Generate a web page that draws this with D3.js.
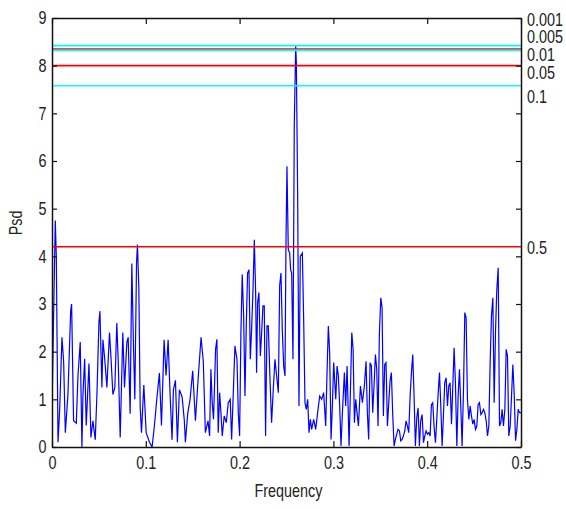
<!DOCTYPE html>
<html>
<head>
<meta charset="utf-8">
<script src="https://cdn.jsdelivr.net/npm/d3@7"></script>
<style>
  body { margin: 0; background: #fff; }
  svg text { font-family: "Liberation Sans", Arial, sans-serif; fill: #222; }
</style>
</head>
<body>
<div id="chart"></div>
<script>
// frequency / power
var freq = [
  0.0000, 0.0035, 0.0046, 0.0064, 0.0082, 0.0106, 0.0124, 0.0142, 0.0170, 0.0199,
  0.0209, 0.0230, 0.0259, 0.0277, 0.0301, 0.0319, 0.0330, 0.0348, 0.0365, 0.0394,
  0.0415, 0.0436, 0.0461, 0.0479, 0.0500, 0.0511, 0.0532, 0.0543, 0.0564, 0.0585,
  0.0613, 0.0631, 0.0649, 0.0670, 0.0691, 0.0706, 0.0727, 0.0755, 0.0773, 0.0798,
  0.0812, 0.0833, 0.0851, 0.0869, 0.0883, 0.0901, 0.0911, 0.0926, 0.0940, 0.0954,
  0.0979, 0.1004, 0.1039, 0.1067, 0.1092, 0.1117, 0.1145, 0.1167, 0.1195, 0.1216,
  0.1238, 0.1259, 0.1280, 0.1294, 0.1316, 0.1337, 0.1358, 0.1387, 0.1411, 0.1422,
  0.1447, 0.1472, 0.1500, 0.1529, 0.1557, 0.1589, 0.1613, 0.1635, 0.1663,
  0.1680, 0.1694, 0.1708, 0.1722, 0.1744, 0.1758, 0.1772, 0.1787, 0.1801, 0.1815,
  0.1836, 0.1858, 0.1879, 0.1900, 0.1915, 0.1929, 0.1950, 0.1972, 0.1986, 0.2000,
  0.2014, 0.2028, 0.2043, 0.2057, 0.2071, 0.2085, 0.2100, 0.2114, 0.2128, 0.2142,
  0.2157, 0.2171, 0.2181, 0.2192, 0.2206, 0.2221, 0.2235, 0.2249, 0.2263, 0.2277,
  0.2292, 0.2306, 0.2324, 0.2341, 0.2359, 0.2377, 0.2391, 0.2413, 0.2427, 0.2441,
  0.2455, 0.2470, 0.2484, 0.2494, 0.2505, 0.2519, 0.2534, 0.2544, 0.2555, 0.2569,
  0.2583, 0.2598, 0.2605, 0.2619, 0.2633, 0.2647, 0.2669, 0.2683, 0.2697, 0.2711,
  0.2726, 0.2740, 0.2754, 0.2768, 0.2790, 0.2811, 0.2832, 0.2854, 0.2875, 0.2896,
  0.2918, 0.2932, 0.2946, 0.2960, 0.2975, 0.2989, 0.3003, 0.3025, 0.3039, 0.3053,
  0.3067, 0.3081, 0.3096, 0.3117, 0.3131, 0.3146, 0.3167, 0.3181, 0.3196, 0.3210,
  0.3224, 0.3238, 0.3252, 0.3267, 0.3288, 0.3309, 0.3330,
  0.3348, 0.3362, 0.3376, 0.3391, 0.3405, 0.3419, 0.3433, 0.3448, 0.3462, 0.3476,
  0.3490, 0.3505, 0.3519, 0.3533, 0.3547, 0.3561, 0.3576, 0.3590, 0.3604, 0.3618,
  0.3633, 0.3647, 0.3661, 0.3675, 0.3689, 0.3704, 0.3718, 0.3732, 0.3746, 0.3761,
  0.3775, 0.3789, 0.3803, 0.3818, 0.3832, 0.3846, 0.3860, 0.3874, 0.3889, 0.3903,
  0.3917, 0.3931, 0.3946, 0.3960, 0.3974, 0.3988, 0.4003, 0.4017, 0.4031, 0.4045,
  0.4059, 0.4074, 0.4088, 0.4102, 0.4116, 0.4131, 0.4145, 0.4159, 0.4173, 0.4187,
  0.4202, 0.4216, 0.4230, 0.4244, 0.4259, 0.4273, 0.4287, 0.4301, 0.4316, 0.4330,
  0.4344, 0.4358, 0.4372, 0.4387, 0.4401, 0.4415, 0.4429, 0.4444, 0.4458, 0.4472,
  0.4486, 0.4500, 0.4515, 0.4529, 0.4543, 0.4557, 0.4572, 0.4586, 0.4600, 0.4614,
  0.4629, 0.4643, 0.4657, 0.4671, 0.4685, 0.4700, 0.4714, 0.4728, 0.4742, 0.4757,
  0.4771, 0.4785, 0.4799, 0.4813, 0.4828, 0.4842, 0.4856, 0.4870, 0.4885, 0.4899,
  0.4913, 0.4927, 0.4942, 0.4956, 0.4970, 0.4984, 0.5000
];

var psd = [
  0.80, 4.75, 4.00, 0.10, 0.80, 2.30, 1.80, 0.30, 1.10, 2.85,
  3.00, 0.55, 0.50, 1.50, 2.20, 0.00, 1.10, 1.85, 0.45, 1.75,
  0.20, 0.55, 0.15, 1.10, 2.60, 2.85, 1.25, 2.25, 1.80, 1.25,
  2.40, 1.80, 1.10, 1.25, 2.60, 1.80, 0.20, 2.40, 1.25, 2.20,
  2.30, 0.70, 3.85, 2.10, 1.00, 3.85, 4.25, 3.30, 0.85, 0.30,
  1.30, 0.30, 0.10, 0.00, 0.45, 1.00, 1.55, 0.45, 2.25, 1.50,
  2.25, 1.10, 0.15, 1.20, 1.40, 0.10, 1.20, 1.05, 0.55, 0.10,
  0.70, 1.00, 1.60, 0.55, 1.40, 2.30, 1.80, 0.30, 0.55,
  0.23, 1.63, 0.93, 0.58, 2.05, 2.26, 0.30, 1.14, 0.72, 0.23,
  0.65, 0.51, 0.93, 1.00, 0.16, 0.93, 2.12, 1.84, 0.72, 0.23,
  2.40, 3.62, 2.75, 1.07, 2.54, 3.65, 3.72, 1.84, 2.47, 3.24,
  4.35, 3.24, 1.56, 3.03, 3.24, 1.91, 2.40, 2.96, 2.96, 0.23,
  2.54, 2.54, 1.42, 0.51, 1.21, 1.84, 1.56, 1.14, 3.38, 3.65,
  2.47, 1.70, 1.49, 4.21, 5.89, 4.14, 4.07, 3.72, 3.65, 1.84,
  6.76, 8.41, 8.06, 5.26, 0.86, 4.00, 4.07, 2.68, 0.93, 0.79,
  1.00, 0.30, 0.58, 0.37, 0.58, 0.37, 0.72, 1.07, 1.00, 1.14,
  0.44, 1.56, 2.54, 1.98, 0.16, 0.86, 1.77, 1.00, 1.70, 1.49,
  0.86, 0.02, 0.72, 1.56, 0.86, 1.70, 0.02, 1.14, 2.40, 2.05,
  0.51, 1.00, 0.72, 0.44, 1.28, 0.93, 1.28,
  1.80, 0.72, 0.16, 1.77, 1.70, 0.72, 1.28, 1.94, 1.63, 0.44,
  2.36, 3.13, 2.92, 0.65, 1.73, 1.77, 0.44, 0.93, 1.38, 1.56,
  0.65, 0.02, 0.16, 0.27, 0.37, 0.34, 0.13, 0.16, 0.23, 0.34,
  0.55, 0.44, 0.30, 1.07, 1.56, 1.94, 1.07, 0.02, 0.62, 0.82,
  0.02, 0.55, 0.68, 0.09, 0.23, 0.34, 0.27, 0.30, 0.23, 0.89,
  0.93, 0.41, 0.09, 0.58, 1.10, 1.56, 0.86, 0.02, 0.65, 1.35,
  1.45, 0.86, 1.28, 1.35, 0.48, 1.28, 2.08, 1.35, 0.02, 1.07,
  1.63, 0.86, 0.02, 1.21, 2.82, 2.71, 1.00, 0.58, 0.86, 0.65,
  0.48, 0.58, 0.37, 0.44, 0.89, 0.93, 0.68, 0.72, 0.79, 0.72,
  0.55, 0.23, 0.44, 1.77, 2.75, 3.13, 0.93, 2.40, 3.30, 3.76,
  0.44, 0.51, 0.79, 0.44, 0.79, 2.05, 1.91, 0.23, 0.44, 1.07,
  1.73, 1.14, 0.13, 0.37, 0.79, 0.72, 0.72
];

// significance levels and their psd thresholds
var sigLabels = ["0.001", "0.005", "0.01", "0.05", "0.1", "0.5"];
var sigLevels = [8.42, 8.35, 8.32, 8.00, 7.58, 4.20];
var sigColors = ["#00ffff", "#ff0000", "#00ffff", "#ff0000", "#00ffff", "#ff0000"];
// where the right-hand labels sit (psd units), stacked so they don't overlap
var sigLabelPos = [8.97, 8.61, 8.23, 7.85, 7.35, 4.19];

var xTicks = [0, 0.1, 0.2, 0.3, 0.4, 0.5];
var yTicks = [0, 1, 2, 3, 4, 5, 6, 7, 8, 9];

// matlab's font here is a narrow helvetica, so squeeze text horizontally
var squeeze = "scale(0.8,1)";

var margin = {top: 18, right: 45, bottom: 62, left: 52};
var width = 566 - margin.left - margin.right,
    height = 509 - margin.top - margin.bottom;

var svg = d3.select("#chart").append("svg")
    .attr("width", 566)
    .attr("height", 509)
    .append("g")
    .attr("transform", "translate(" + margin.left + "," + margin.top + ")");

var x = d3.scaleLinear().domain([0, 0.5]).range([0, width]);
var y = d3.scaleLinear().domain([0, 9]).range([height, 0]);

svg.append("clipPath").attr("id", "plotclip")
    .append("rect").attr("width", width).attr("height", height);

// periodogram
var line = d3.line()
    .x(function(d, i) { return x(freq[i]); })
    .y(function(d) { return y(d); });

svg.append("path")
    .datum(psd)
    .attr("clip-path", "url(#plotclip)")
    .attr("fill", "none")
    .attr("stroke", "#0000ff")
    .attr("stroke-width", 1.2)
    .attr("d", line);

// significance lines
svg.selectAll("line.sig")
    .data(sigLevels)
    .enter().append("line")
    .attr("class", "sig")
    .attr("x1", 0)
    .attr("x2", width)
    .attr("y1", function(d) { return y(d); })
    .attr("y2", function(d) { return y(d); })
    .attr("stroke", function(d, i) { return sigColors[i]; })
    .attr("stroke-width", 1.6);

svg.selectAll("g.siglabel")
    .data(sigLabels)
    .enter().append("g")
    .attr("class", "siglabel")
    .attr("transform", function(d, i) { return "translate(" + (width + 6) + "," + y(sigLabelPos[i]) + ")"; })
    .append("text")
    .attr("transform", squeeze)
    .attr("dy", "0.36em")
    .style("font-size", "18px")
    .text(function(d) { return d; });

// axes, ticks pointing inward like matlab
function styleAxis(g) {
    g.selectAll(".domain").attr("stroke", "#111").attr("stroke-width", 1.5);
    g.selectAll(".tick line").attr("stroke", "#111").attr("stroke-width", 1.2);
    g.selectAll("text").style("font-size", "18px").attr("fill", "#222")
        .attr("transform", squeeze);
}

svg.append("g")
    .attr("transform", "translate(0," + height + ")")
    .call(d3.axisBottom(x).tickValues(xTicks).tickSize(-6).tickSizeOuter(0).tickPadding(9)
        .tickFormat(function(d) { return d === 0 ? "0" : d3.format(".1f")(d); }))
    .call(styleAxis);

svg.append("g")
    .call(d3.axisTop(x).tickValues(xTicks).tickSize(-6).tickSizeOuter(0).tickFormat(""))
    .call(styleAxis);

svg.append("g")
    .call(d3.axisLeft(y).tickValues(yTicks).tickSize(-5).tickSizeOuter(0).tickPadding(7))
    .call(styleAxis);

svg.append("g")
    .attr("transform", "translate(" + width + ",0)")
    .call(d3.axisRight(y).tickValues(yTicks).tickSize(-5).tickSizeOuter(0).tickFormat(""))
    .call(styleAxis);

// axis titles
svg.append("g")
    .attr("transform", "translate(" + (width / 2 + 2) + "," + (height + 50) + ")")
    .append("text")
    .attr("transform", squeeze)
    .attr("text-anchor", "middle")
    .style("font-size", "18px")
    .text("Frequency");

svg.append("g")
    .attr("transform", "translate(-30," + y(4.7) + ") rotate(-90)")
    .append("text")
    .attr("transform", squeeze)
    .attr("text-anchor", "middle")
    .style("font-size", "18px")
    .text("Psd");
</script>
</body>
</html>
